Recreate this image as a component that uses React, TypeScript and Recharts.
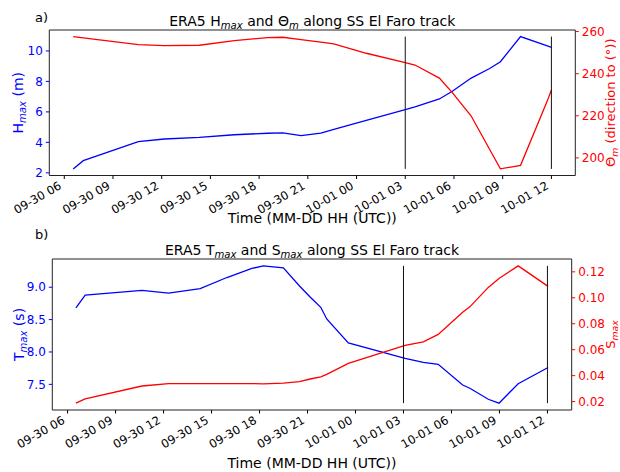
import {
  LineChart,
  Line,
  XAxis,
  YAxis,
  ReferenceLine,
  ReferenceArea,
} from "recharts";

const FONT = "DejaVu Sans, Verdana, sans-serif";

// hours since 09-30 00 UTC
const tickHours = [6, 9, 12, 15, 18, 21, 24, 27, 30, 33, 36];
const tickLabels = [
  "09-30 06", "09-30 09", "09-30 12", "09-30 15", "09-30 18", "09-30 21",
  "10-01 00", "10-01 03", "10-01 06", "10-01 09", "10-01 12",
];
const eventHours = [27, 36];

// panel a
const topHours = [6.55, 7.17, 10.56, 12.16, 14.32, 16.47, 18.53, 19.46, 20.58, 21.8, 22.6, 24.6, 27.0, 27.6, 29.1, 29.9, 31.06, 32.2, 32.86, 34.1, 35.75, 36.0];
const hmax = [2.26, 2.8, 4.05, 4.22, 4.33, 4.5, 4.6, 4.62, 4.44, 4.6, 4.85, 5.45, 6.15, 6.33, 6.85, 7.35, 8.22, 8.85, 9.29, 10.94, 10.33, 10.24];
const thetaM = [257.6, 257.0, 253.8, 253.3, 253.5, 255.7, 257.1, 257.3, 256.2, 255.0, 254.2, 249.7, 245.2, 244.1, 237.9, 231.0, 219.9, 204.0, 194.8, 196.5, 227.1, 232.3];

// panel b
const bottomHours = [6.52, 7.1, 10.65, 12.31, 14.29, 15.96, 17.52, 18.24, 19.49, 20.5, 21.16, 21.83, 22.2, 23.55, 27.1, 28.24, 29.17, 30.7, 31.15, 32.3, 32.97, 34.17, 36.04];
const tmax = [8.68, 8.88, 8.95, 8.91, 8.98, 9.15, 9.29, 9.33, 9.3, 9.02, 8.85, 8.69, 8.51, 8.14, 7.9, 7.84, 7.81, 7.49, 7.44, 7.27, 7.21, 7.51, 7.76];
const smax = [0.0188, 0.0221, 0.032, 0.0338, 0.0339, 0.0339, 0.0338, 0.0337, 0.0343, 0.0353, 0.0374, 0.0391, 0.041, 0.0494, 0.0634, 0.066, 0.0718, 0.0889, 0.093, 0.108, 0.1149, 0.1246, 0.1088];

const hTicks = [2, 4, 6, 8, 10];
const thetaTicks = [200, 220, 240, 260];
const tTicks = [7.5, 8.0, 8.5, 9.0];
const sTicks = [0.02, 0.04, 0.06, 0.08, 0.1, 0.12];

// matplotlib-like 5% margins
function padded(values: number[]): [number, number] {
  const lo = Math.min(...values);
  const hi = Math.max(...values);
  const p = (hi - lo) * 0.05;
  return [lo - p, hi + p];
}

function TimeTick({ x, y, payload }: any) {
  const i = tickHours.indexOf(payload.value);
  return (
    <g transform={`translate(${x - 2},${y + 7})`}>
      <text
        textAnchor="end"
        transform="rotate(-30)"
        fontSize={11.7}
        fontFamily={FONT}
        fill="#000"
      >
        {tickLabels[i]}
      </text>
    </g>
  );
}

const Sub = ({ children }: { children: string }) => (
  <tspan fontSize="0.72em" fontStyle="italic" dy={3}>
    {children}
  </tspan>
);

const axisTick = (fill: string) => ({ fill, fontSize: 12, fontFamily: FONT });

function Panel({
  top,
  height,
  plotTop,
  plotH,
  leftW,
  rightW,
  hours,
  left,
  right,
  leftTicks,
  rightTicks,
  leftFmt,
  rightFmt,
  letter,
  letterY,
  title,
  titleY,
  xLabelY,
  leftLabel,
  leftLabelX,
  rightLabel,
  rightLabelX,
}: any) {
  const rows = hours.map((t: number, i: number) => ({ t, a: left[i], b: right[i] }));
  const xDom = padded(hours);
  const leftDom = padded(left);
  const lo = Math.min(...left);
  const hi = Math.max(...left);
  const plotL = leftW;
  const plotR = 620 - rightW;
  const midX = (plotL + plotR) / 2;
  const midY = plotTop + plotH / 2;
  return (
    <div style={{ position: "absolute", left: 0, top, width: 620, height }}>
      <LineChart
        width={620}
        height={height}
        data={rows}
        margin={{ top: plotTop, right: 0, bottom: 0, left: 0 }}
      >
        <XAxis
          dataKey="t"
          type="number"
          domain={xDom}
          ticks={tickHours}
          interval={0}
          allowDataOverflow
          axisLine={false}
          tickLine={{ stroke: "#000" }}
          tickSize={3.5}
          tickMargin={2}
          height={height - plotTop - plotH}
          tick={<TimeTick />}
        />
        <YAxis
          yAxisId="left"
          orientation="left"
          width={leftW}
          domain={leftDom}
          ticks={leftTicks}
          allowDataOverflow
          axisLine={false}
          tickLine={{ stroke: "blue" }}
          tickSize={3.5}
          tickMargin={3}
          tick={axisTick("blue")}
          tickFormatter={leftFmt}
        />
        <YAxis
          yAxisId="right"
          orientation="right"
          width={rightW}
          domain={padded(right)}
          ticks={rightTicks}
          allowDataOverflow
          axisLine={false}
          tickLine={{ stroke: "red" }}
          tickSize={3.5}
          tickMargin={3}
          tick={axisTick("red")}
          tickFormatter={rightFmt}
        />
        <ReferenceArea
          yAxisId="left"
          x1={xDom[0]}
          x2={xDom[1]}
          y1={leftDom[0]}
          y2={leftDom[1]}
          fill="#fff"
          fillOpacity={0}
          stroke="#222"
          strokeWidth={1}
          strokeOpacity={1}
          ifOverflow="visible"
        />
        <Line
          yAxisId="left"
          dataKey="a"
          type="linear"
          stroke="blue"
          strokeWidth={1.3}
          dot={false}
          isAnimationActive={false}
        />
        <Line
          yAxisId="right"
          dataKey="b"
          type="linear"
          stroke="red"
          strokeWidth={1.3}
          dot={false}
          isAnimationActive={false}
        />
        {eventHours.map((h) => (
          <ReferenceLine
            key={h}
            yAxisId="left"
            segment={[{ x: h, y: lo }, { x: h, y: hi }]}
            stroke="#111"
            strokeWidth={1}
            ifOverflow="visible"
          />
        ))}
        <text x={35} y={letterY} fontSize={13} fontFamily={FONT} fill="#000">
          {letter}
        </text>
        <text x={midX} y={titleY} textAnchor="middle" fontSize={14} fontFamily={FONT} fill="#000">
          {title}
        </text>
        <text x={midX} y={xLabelY} textAnchor="middle" fontSize={14} fontFamily={FONT} fill="#000">
          Time (MM-DD HH (UTC))
        </text>
        <text
          x={leftLabelX}
          y={midY}
          textAnchor="middle"
          transform={`rotate(-90, ${leftLabelX}, ${midY})`}
          fontSize={14}
          fontFamily={FONT}
          fill="blue"
        >
          {leftLabel}
        </text>
        <text
          x={rightLabelX}
          y={midY}
          textAnchor="middle"
          transform={`rotate(-90, ${rightLabelX}, ${midY})`}
          fontSize={13}
          fontFamily={FONT}
          fill="red"
        >
          {rightLabel}
        </text>
      </LineChart>
    </div>
  );
}

export default function App() {
  return (
    <div
      style={{
        position: "absolute",
        left: 0,
        top: 0,
        width: 620,
        height: 472,
        background: "#fff",
        overflow: "hidden",
      }}
    >
      <Panel
        top={0}
        height={225}
        plotTop={30}
        plotH={145.5}
        leftW={49.3}
        rightW={44.7}
        hours={topHours}
        left={hmax}
        right={thetaM}
        leftTicks={hTicks}
        rightTicks={thetaTicks}
        leftFmt={(v: number) => String(v)}
        rightFmt={(v: number) => String(v)}
        letter="a)"
        letterY={22}
        titleY={26}
        xLabelY={223}
        title={
          <>
            <tspan>ERA5 H</tspan>
            <Sub>max</Sub>
            <tspan dy={-3}> and Θ</tspan>
            <Sub>m</Sub>
            <tspan dy={-3}> along SS El Faro track</tspan>
          </>
        }
        leftLabel={
          <>
            <tspan>H</tspan>
            <Sub>max</Sub>
            <tspan dy={-3}> (m)</tspan>
          </>
        }
        leftLabelX={23}
        rightLabel={
          <>
            <tspan>Θ</tspan>
            <Sub>m</Sub>
            <tspan dy={-3}> (direction to (°))</tspan>
          </>
        }
        rightLabelX={615}
      />
      <Panel
        top={225}
        height={247}
        plotTop={34}
        plotH={151}
        leftW={52.3}
        rightW={48.3}
        hours={bottomHours}
        left={tmax}
        right={smax}
        leftTicks={tTicks}
        rightTicks={sTicks}
        leftFmt={(v: number) => v.toFixed(1)}
        rightFmt={(v: number) => v.toFixed(2)}
        letter="b)"
        letterY={14}
        titleY={30}
        xLabelY={243}
        title={
          <>
            <tspan>ERA5 T</tspan>
            <Sub>max</Sub>
            <tspan dy={-3}> and S</tspan>
            <Sub>max</Sub>
            <tspan dy={-3}> along SS El Faro track</tspan>
          </>
        }
        leftLabel={
          <>
            <tspan>T</tspan>
            <Sub>max</Sub>
            <tspan dy={-3}>  (s)</tspan>
          </>
        }
        leftLabelX={24}
        rightLabel={
          <>
            <tspan>S</tspan>
            <Sub>max</Sub>
          </>
        }
        rightLabelX={615}
      />
    </div>
  );
}
